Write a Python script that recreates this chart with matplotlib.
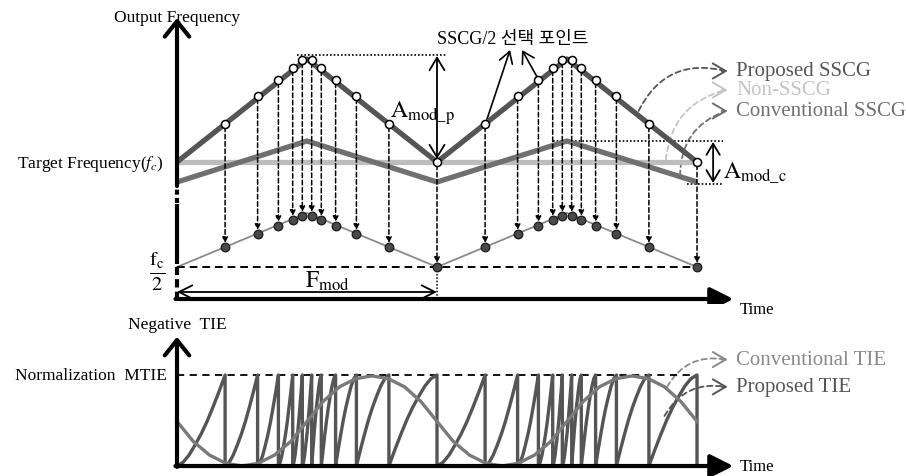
import numpy as np
import matplotlib
matplotlib.use("Agg")
import matplotlib.pyplot as plt
from matplotlib.patches import FancyArrowPatch

plt.rcParams['font.family'] = ['Liberation Serif', 'Noto Sans CJK KR']
plt.rcParams['mathtext.fontset'] = 'stix'

# ---------------- data ----------------
# time in modulation periods
line_t = [0, 0.5, 1, 1.5, 2]
proposed_f = [137, 240, 137, 240, 137]      # proposed SSCG frequency (arb. units)
conv_f = [117, 158, 117, 158, 117]          # conventional SSCG
nonsscg_t = [0, 2]
nonsscg_f = [137, 137]                       # non-SSCG (target f_c)
half_f = [32, 86, 32, 86, 32]                # SSCG/2 output

sel_t = [0.185, 0.31, 0.39, 0.445, 0.482, 0.518, 0.555, 0.61, 0.69, 0.815, 1.0,
         1.185, 1.31, 1.39, 1.445, 1.482, 1.518, 1.555, 1.61, 1.69, 1.815, 2.0]
sel_up = [175, 203, 219, 231, 239, 239, 231, 219, 203, 175, 137,
          175, 203, 219, 231, 239, 239, 231, 219, 203, 175, 137]
sel_low = [52, 65, 73, 79, 83, 83, 79, 73, 65, 52, 32,
           52, 65, 73, 79, 83, 83, 79, 73, 65, 52, 32]

target_level = 137
half_level = 32
peak_level = 243

# TIE (normalized to MTIE = 1)
conv_tie_t = [k / 16 for k in range(33)]
conv_tie = [0.49, 0.27, 0.12, 0.03, 0.0, 0.03, 0.12, 0.27, 0.49, 0.71, 0.87, 0.96, 0.99, 0.96, 0.87, 0.71,
            0.49, 0.27, 0.12, 0.03, 0.0, 0.03, 0.12, 0.27, 0.49, 0.71, 0.87, 0.96, 0.99, 0.96, 0.87, 0.71, 0.49]
tie_rise_convex = [0, 0.04, 0.12, 0.23, 0.35, 0.49, 0.65, 0.82, 1.0]
tie_rise_concave = [0, 0.18, 0.35, 0.51, 0.65, 0.77, 0.88, 0.96, 1.0]

C_PROP = '#555555'
C_CONV = '#707070'
C_NON = '#bdbdbd'

fig = plt.figure(figsize=(9.06, 4.77), dpi=100)
xl = (-177 / 260, 729 / 260)

ax = fig.add_axes([0, (477 - 305) / 477, 1, 305 / 477])
ax.set_xlim(*xl)
ax.set_ylim(-5, 300)
ax.axis('off')

bx = fig.add_axes([0, 0, 1, 162 / 477])
bx.set_xlim(*xl)
bx.set_ylim(-10 / 91, 152 / 91)
bx.axis('off')

# ---------------- top panel ----------------
ax.plot(nonsscg_t, nonsscg_f, color=C_NON, lw=3.8, solid_capstyle='butt', zorder=2)
ax.plot(line_t, conv_f, color=C_CONV, lw=3.8, solid_capstyle='butt', zorder=3)
ax.plot(line_t, proposed_f, color=C_PROP, lw=3.8, solid_capstyle='butt', zorder=4)
ax.plot(line_t, half_f, color='#8a8a8a', lw=1.3, zorder=2)

ax.plot([0, 2], [half_level, half_level], color='black', lw=1.4, ls=(0, (4, 2.5)), zorder=3)

for t, u, l in zip(sel_t, sel_up, sel_low):
    a = FancyArrowPatch((t, u - 3), (t, l + 4), arrowstyle='-|>', mutation_scale=8,
                        lw=1.1, color='black', linestyle=(0, (3, 1.8)), shrinkA=0, shrinkB=0, zorder=5)
    ax.add_patch(a)

ax.plot(sel_t, sel_up, 'o', ms=5.8, mfc='white', mec='black', mew=1.1, zorder=7)
ax.plot(sel_t, sel_low, 'o', ms=6.2, mfc='#4a4a4a', mec='#1a1a1a', mew=0.9, zorder=7)

# axes arrows
ax.plot([0, 0], [-1, 32], color='black', lw=3, ls=(0, (2, 1)), solid_capstyle='butt', zorder=6)
ax.plot([0, 0], [35, 95], color='black', lw=3, solid_capstyle='butt', zorder=6)
ax.plot([0, 0], [96, 113], color='black', lw=3, ls=(0, (1.2, 0.8)), zorder=6)
ax.add_patch(FancyArrowPatch((0, 113), (0, 281), arrowstyle='->,head_length=0.5,head_width=0.4',
                             mutation_scale=22, lw=3, color='black', shrinkA=0, shrinkB=0, zorder=6))
ax.add_patch(FancyArrowPatch((-0.006, 0), (2.14, 0), arrowstyle='-|>,head_length=0.7,head_width=0.35',
                             mutation_scale=20, lw=3, color='black', shrinkA=0, shrinkB=0, zorder=6))

ax.text(0, 282, 'Output Frequency', ha='center', va='center', fontsize=12.5)
ax.text(-0.05, 136, r'Target Frequency($f_c$)', ha='right', va='center', fontsize=12.5)
ax.text(-0.075, 28, r'$\frac{\mathrm{f_c}}{2}$', ha='center', va='center', fontsize=21)
ax.text(2.165, -10, 'Time', ha='left', va='center', fontsize=12)

# A_mod_p
ax.plot([0.46, 1.04], [peak_level + 1, peak_level + 1], color='black', lw=1.2, ls=(0, (1, 1.2)))
ax.add_patch(FancyArrowPatch((1.0, peak_level), (1.0, target_level + 3), arrowstyle='<->,head_length=0.5,head_width=0.3',
                             mutation_scale=18, lw=1.3, color='black', shrinkA=0, shrinkB=0, zorder=6))
ax.text(0.82, 187, r'$\mathrm{A}_{\mathrm{mod\_p}}$', ha='left', va='center', fontsize=17)

# A_mod_c
ax.plot([1.446, 2.1], [158, 158], color='black', lw=1.2, ls=(0, (1, 1.2)))
ax.plot([1.96, 2.1], [115, 115], color='black', lw=1.2, ls=(0, (1, 1.2)))
ax.add_patch(FancyArrowPatch((2.062, 157), (2.062, 116), arrowstyle='<->,head_length=0.5,head_width=0.3',
                             mutation_scale=16, lw=1.3, color='black', shrinkA=0, shrinkB=0, zorder=6))
ax.text(2.1, 127, r'$\mathrm{A}_{\mathrm{mod\_c}}$', ha='left', va='center', fontsize=17)

# F_mod
ax.plot([1.0, 1.0], [0, half_level], color='black', lw=1.1, ls=(0, (1, 1.2)))
ax.add_patch(FancyArrowPatch((0.0, 7), (1.0, 7), arrowstyle='<->,head_length=0.6,head_width=0.3',
                             mutation_scale=16, lw=1.3, color='black', shrinkA=0, shrinkB=0, zorder=6))
ax.text(0.577, 19, r'$\mathrm{F}_{\mathrm{mod}}$', ha='center', va='center', fontsize=17)

# SSCG/2 selection points
ax.text(1.0, 260, 'SSCG/2 선택 포인트', ha='left', va='center', fontsize=13)
ax.add_patch(FancyArrowPatch((1.19, 178), (1.281, 249), arrowstyle='->,head_length=0.5,head_width=0.3',
                             mutation_scale=16, lw=1.2, color='black', shrinkA=0, shrinkB=0))
ax.add_patch(FancyArrowPatch((1.385, 222), (1.327, 249), arrowstyle='->,head_length=0.5,head_width=0.3',
                             mutation_scale=16, lw=1.2, color='black', shrinkA=0, shrinkB=0))


def legend_arrow(axis, start, end, color, rad):
    axis.add_patch(FancyArrowPatch(start, end, arrowstyle='-', connectionstyle=f'arc3,rad={rad}',
                                   lw=1.3, color=color, linestyle=(0, (3, 2)), shrinkA=0, shrinkB=0))
    xs, ys = end
    axis.add_patch(FancyArrowPatch((xs - 0.015, ys), (xs + 0.008, ys), arrowstyle='->,head_length=0.55,head_width=0.32',
                                   mutation_scale=17, lw=1.4, color=color, shrinkA=0, shrinkB=0))


legend_arrow(ax, (1.775, 188), (2.11, 228), C_PROP, -0.4)
legend_arrow(ax, (1.88, 139), (2.11, 209), '#c4c4c4', -0.35)
legend_arrow(ax, (1.935, 123), (2.11, 188), C_CONV, -0.35)
ax.text(2.15, 228, 'Proposed SSCG', color=C_PROP, ha='left', va='center', fontsize=15)
ax.text(2.15, 209, 'Non-SSCG', color='#c4c4c4', ha='left', va='center', fontsize=15)
ax.text(2.15, 188, 'Conventional SSCG', color=C_CONV, ha='left', va='center', fontsize=15)

# ---------------- bottom panel ----------------
bounds = [0.0] + sel_t
px, py = [], []
for i in range(len(bounds) - 1):
    a, b = bounds[i], bounds[i + 1]
    prof = tie_rise_convex if (b - np.floor(a)) <= 0.52 else tie_rise_concave
    xs = a + (b - a) * np.linspace(0, 1, len(prof))
    px.extend(xs)
    py.extend(prof)
    px.append(b)
    py.append(0.0)
bx.plot(px, py, color=C_PROP, lw=2.4, zorder=3)
bx.plot(conv_tie_t, conv_tie, color='#7a7a7a', lw=2.4, zorder=4)

bx.plot([0, 2], [1, 1], color='black', lw=1.3, ls=(0, (4, 3)), zorder=2)
bx.add_patch(FancyArrowPatch((0, -0.01), (0, 1.42), arrowstyle='->,head_length=0.5,head_width=0.4',
                             mutation_scale=22, lw=3, color='black', shrinkA=0, shrinkB=0, zorder=6))
bx.add_patch(FancyArrowPatch((-0.006, 0), (2.14, 0), arrowstyle='-|>,head_length=0.7,head_width=0.35',
                             mutation_scale=20, lw=3, color='black', shrinkA=0, shrinkB=0, zorder=6))
bx.text(0, 1.56, 'Negative  TIE', ha='center', va='center', fontsize=12.5)
bx.text(-0.04, 1.0, 'Normalization  MTIE', ha='right', va='center', fontsize=12.5)
bx.text(2.165, 0, 'Time', ha='left', va='center', fontsize=12)

legend_arrow(bx, (1.885, 0.87), (2.11, 1.17), '#8a8a8a', -0.35)
legend_arrow(bx, (1.875, 0.55), (2.11, 0.87), C_PROP, -0.35)
bx.text(2.15, 1.17, 'Conventional TIE', color='#8a8a8a', ha='left', va='center', fontsize=15)
bx.text(2.15, 0.87, 'Proposed TIE', color=C_PROP, ha='left', va='center', fontsize=15)

fig.savefig('out.png', dpi=100)
